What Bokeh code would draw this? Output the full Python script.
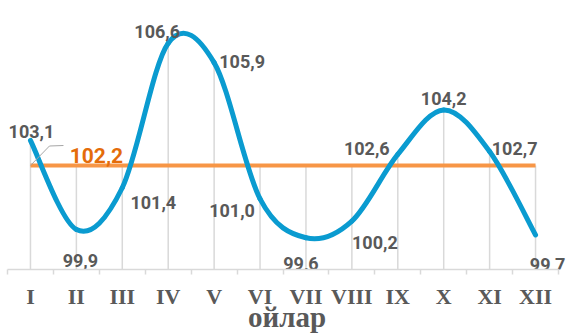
import numpy as np
from bokeh.plotting import figure
from bokeh.models import Range1d, FixedTicker
from bokeh.core.properties import value
from bokeh.embed import file_html
from bokeh.resources import INLINE

# ---- data ----
months = ["I", "II", "III", "IV", "V", "VI", "VII", "VIII", "IX", "X", "XI", "XII"]
values = [103.1, 99.9, 101.4, 106.6, 105.9, 101.0, 99.6, 100.2, 102.6, 104.2, 102.7, 99.7]
average = 102.2
axis_title = "ойлар"

# label placement (screen pixels, relative to the point)
label_dx = [1, 4, 31, -11, 28, -28, -5, 23, -31, 0, 25, 12]
label_dy = [-9, 31, 15, -12, -1, 12, 26, 21, -6, -11, -3, 29]

W, H = 566, 336
LEFT, RIGHT_GAP = 7, 8
BOTTOM = 67
FRAME_H = H - BOTTOM
n = len(values)
step = (W - LEFT - RIGHT_GAP) / n          # px per category
X0 = 0.5
X1 = n + 0.5 + RIGHT_GAP / step
px_x = step
px_y = 27.8
Y1 = average + 165 / px_y
Y0 = Y1 - FRAME_H / px_y

x = np.arange(1, n + 1, dtype=float)
y = np.array(values, dtype=float)
labels = [f"{v:.1f}".replace(".", ",") for v in values]

p = figure(width=W, height=H, output_backend="svg", toolbar_location=None,
           x_range=Range1d(X0, X1), y_range=Range1d(Y0, Y1),
           y_axis_location=None, min_border_left=LEFT, min_border_right=0,
           min_border_top=0, min_border_bottom=BOTTOM)
p.outline_line_color = None
p.xgrid.visible = False
p.ygrid.visible = False
p.background_fill_color = "white"
p.border_fill_color = "white"

# drop lines
p.segment(x0=x, y0=np.maximum(y, average), x1=x, y1=[Y0] * n,
          line_color="#D9D9D9", line_width=1.5)

# average line
p.line(x=x, y=[average] * n, line_color="#F79646", line_width=4)

# smoothed line (Catmull-Rom as cubic Bezier)
xe = np.concatenate([[x[0]], x, [x[-1]]])
ye = np.concatenate([[y[0]], y, [y[-1]]])
cx0 = x[:-1] + (xe[2:-1] - xe[:-3]) / 6
cy0 = y[:-1] + (ye[2:-1] - ye[:-3]) / 6
cx1 = x[1:] - (xe[3:] - xe[1:-2]) / 6
cy1 = y[1:] - (ye[3:] - ye[1:-2]) / 6
p.bezier(x0=x[:-1], y0=y[:-1], x1=x[1:], y1=y[1:], cx0=cx0, cy0=cy0, cx1=cx1, cy1=cy1,
         line_color="#0A9BD0", line_width=5, line_cap="round")

# leader line for the average label
p.line(x=[x[0], x[0] + 19 / px_x, x[0] + 33 / px_x],
       y=[average, average + 19.5 / px_y, average + 20 / px_y],
       line_color="#A6A6A6", line_width=1)

# data labels
p.text(x=x, y=y, text=labels, x_offset=label_dx, y_offset=label_dy,
       text_font=value("Roboto"), text_font_style="bold",
       text_font_size="18px", text_color="#595959",
       text_align="center", text_baseline="alphabetic")

p.text(x=[x[0]], y=[average], text=[f"{average:.1f}".replace(".", ",")],
       x_offset=66, y_offset=-10,
       text_font=value("Roboto"), text_font_style="bold",
       text_font_size="21px", text_color="#E46C0A",
       text_align="center", text_baseline="alphabetic")

# x axis
ax = p.xaxis[0]
ax.bounds = (X0, n + 0.5)
ax.ticker = FixedTicker(ticks=list(x), minor_ticks=[X0 + i for i in range(n + 1)])
ax.major_label_overrides = {float(i + 1): m for i, m in enumerate(months)}
ax.major_label_text_font = "Liberation Serif"
ax.major_label_text_font_style = "bold"
ax.major_label_text_font_size = "22px"
ax.major_label_text_color = "#595959"
ax.major_tick_line_color = None
ax.major_tick_out = 0
ax.major_tick_in = 0
ax.minor_tick_line_color = "#D9D9D9"
ax.minor_tick_line_width = 1.5
ax.minor_tick_out = 5
ax.minor_tick_in = 0
ax.axis_line_color = "#D9D9D9"
ax.axis_line_width = 1.5
ax.major_label_standoff = 9
ax.axis_label = axis_title
ax.axis_label_text_font = "Liberation Serif"
ax.axis_label_text_font_style = "bold"
ax.axis_label_text_font_size = "29px"
ax.axis_label_text_color = "#595959"
ax.axis_label_standoff = -11

open("out.html", "w").write(file_html(p, INLINE))
